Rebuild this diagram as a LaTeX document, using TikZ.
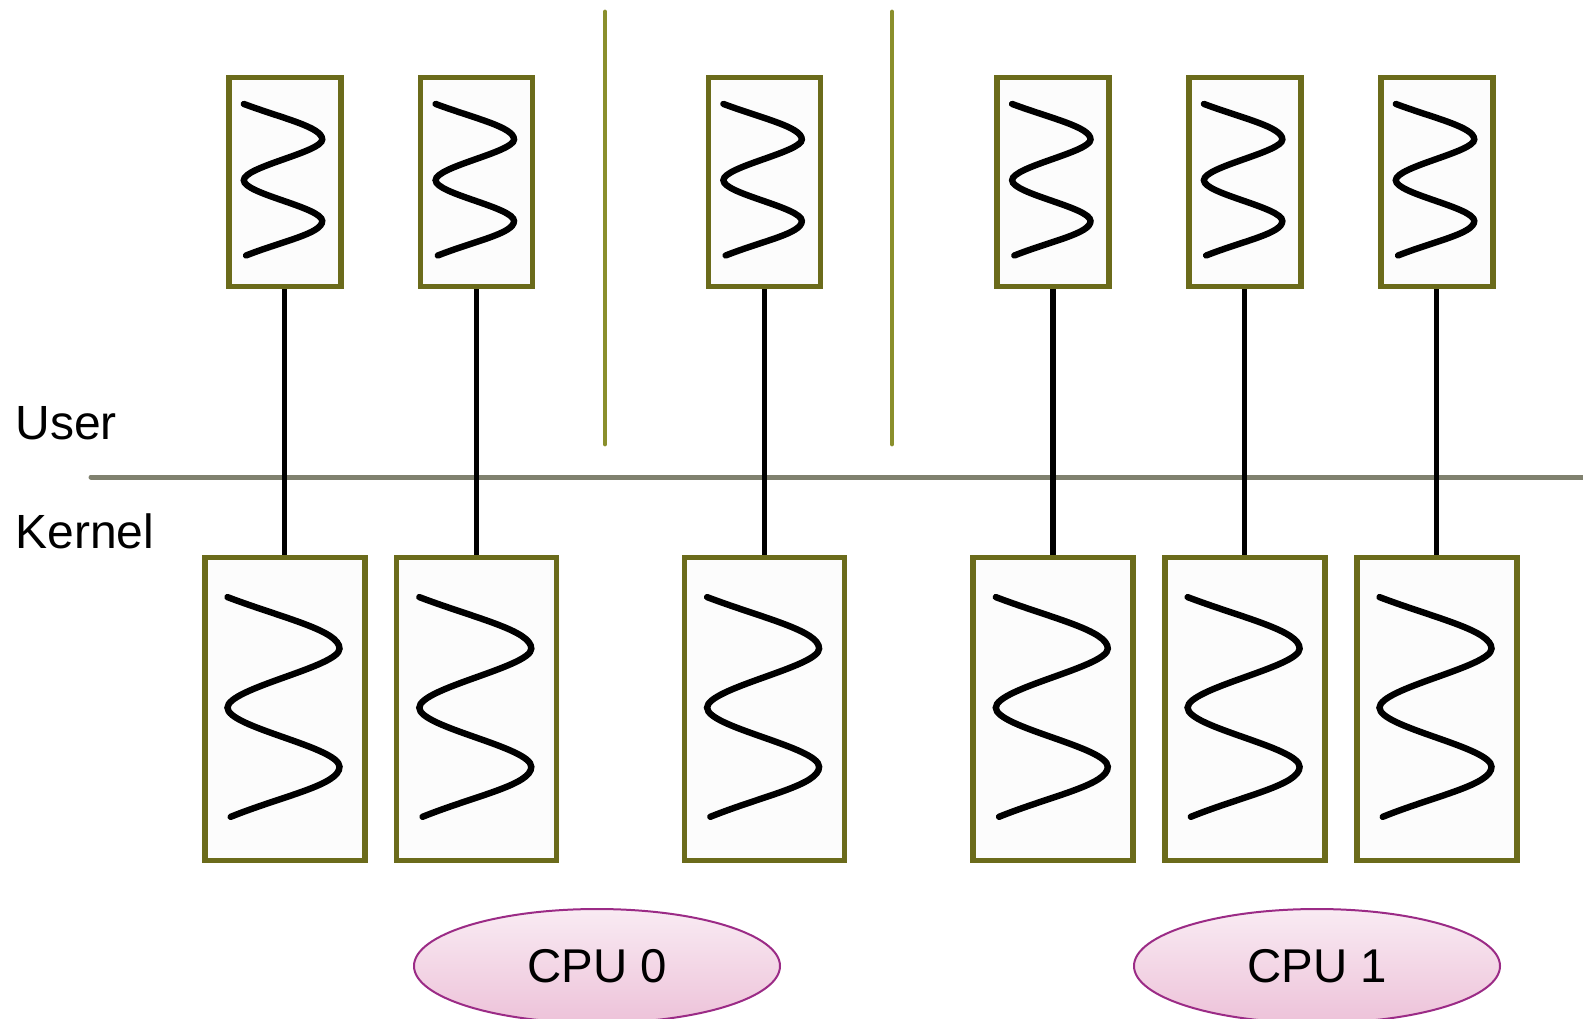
\documentclass[tikz,border=0pt]{standalone}
\usepackage{fontspec}
\setmainfont{Liberation Sans}
\usetikzlibrary{positioning,shapes.geometric}
\definecolor{boxline}{HTML}{6B6B1B}
\definecolor{sepline}{HTML}{8A8F2C}
\definecolor{ruleline}{HTML}{80816F}
\definecolor{cpuline}{HTML}{9B2B86}
\definecolor{cputop}{HTML}{F9EBF3}
\definecolor{cpubot}{HTML}{EDC2D9}

\tikzset{
  ubox/.style={draw=boxline, fill=white!99!black, line width=2.8pt, inner sep=0pt,
    minimum width=56pt, minimum height=104.5pt},
  kbox/.style={draw=boxline, fill=white!99!black, line width=2.8pt, inner sep=0pt,
    minimum width=80pt, minimum height=151.5pt},
  squiggle/.style={line width=3.2pt, line cap=round},
  link/.style={line width=2.6pt},
  cpu/.style={ellipse, draw=cpuline, line width=1pt, top color=cputop, bottom color=cpubot,
    minimum width=183pt, minimum height=57pt, inner sep=0pt, font=\fontsize{23.7}{28}\selectfont},
  side/.style={anchor=base west, inner sep=0pt, font=\fontsize{24}{28}\selectfont},
  thread/.pic={
    \draw[squiggle] (0.16,0.14) .. controls (0.51,0.21) and (0.86,0.25) .. (0.86,0.31)
      .. controls (0.86,0.37) and (0.16,0.44) .. (0.16,0.505)
      .. controls (0.16,0.57) and (0.86,0.635) .. (0.86,0.70)
      .. controls (0.86,0.76) and (0.51,0.795) .. (0.18,0.865);
  }
}

\begin{document}
\begin{tikzpicture}[x=0.5pt,y=-0.5pt]
\useasboundingbox (0,0) rectangle (1583,1018);
% address space separators and the user/kernel boundary
\draw[sepline, line width=2.4pt, line cap=round] (605,12) -- (605,444);
\draw[sepline, line width=2.4pt, line cap=round] (892,12) -- (892,444);
\draw[ruleline, line width=2.5pt, line cap=round] (91,477) -- (1583,477);
\node[side] (user) at (15,439) {User};
\node[side] (kernel) at (15,548) {Kernel};
% user threads mapped one-to-one onto kernel threads
\foreach \n/\cx in {1/284.7, 2/476.5, 3/764.3, 4/1053, 5/1244.8, 6/1436.7} {
  \node[ubox] (u\n) at (\cx,182) {};
  \node[kbox] (k\n) at (\cx,709) {};
  \pic[xscale=112, yscale=209] at (u\n.north west) {thread};
  \pic[xscale=160, yscale=303] at (k\n.north west) {thread};
  \draw[link] (u\n) -- (k\n);
}
\node[cpu] (cpu0) at (597,966) {CPU 0};
\node[cpu] (cpu1) at (1317,966) {CPU 1};
\end{tikzpicture}
\end{document}
